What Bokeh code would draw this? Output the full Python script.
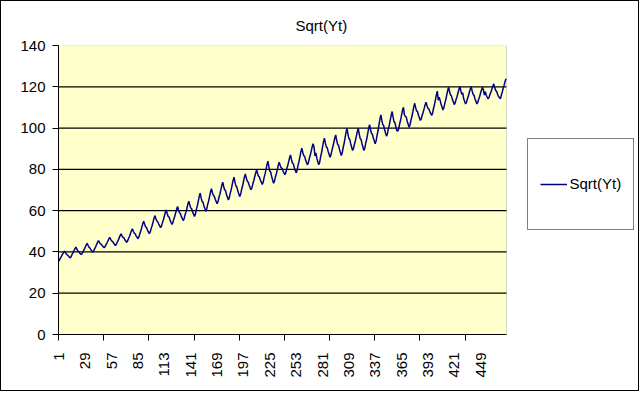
import math
from bokeh.plotting import figure
from bokeh.models import (Range1d, FixedTicker, LinearAxis, Legend, LegendItem,
                          ColumnDataSource, BoxAnnotation)
from bokeh.embed import file_html
from bokeh.resources import INLINE

title_text = "Sqrt(Yt)"
series_name = "Sqrt(Yt)"

sqrt_yt = [
    35.5, 36.6, 37.4, 38.2, 39.0, 39.8, 40.4, 39.6, 38.9, 38.5, 38.0, 37.5,
    37.1, 37.8, 38.9, 39.6, 40.7, 41.6, 42.3, 41.4, 40.5, 40.1, 39.5, 39.0,
    38.8, 39.5, 40.5, 41.3, 42.4, 43.4, 44.2, 43.1, 42.2, 41.9, 41.0, 40.4,
    39.9, 40.6, 41.6, 42.5, 43.6, 44.6, 45.5, 44.6, 43.9, 43.7, 43.0, 42.5,
    42.0, 42.6, 43.5, 44.3, 45.3, 46.3, 47.1, 46.1, 45.3, 45.1, 44.3, 43.7,
    43.1, 43.8, 44.8, 45.7, 46.8, 47.9, 48.8, 47.8, 47.0, 46.8, 45.9, 45.3,
    44.7, 45.4, 46.6, 47.6, 48.9, 50.2, 51.2, 50.0, 49.1, 48.8, 47.8, 47.1,
    46.4, 47.3, 48.9, 50.2, 51.9, 53.6, 54.9, 53.4, 52.2, 51.8, 50.6, 49.7,
    48.8, 49.7, 51.4, 52.8, 54.5, 56.3, 57.6, 56.1, 55.0, 54.6, 53.5, 52.6,
    51.7, 52.6, 54.3, 55.6, 57.4, 59.1, 60.4, 58.6, 57.2, 56.9, 55.4, 54.4,
    53.3, 54.2, 55.9, 57.2, 59.0, 60.7, 62.0, 60.3, 59.0, 58.6, 57.2, 56.2,
    55.2, 56.1, 58.0, 59.4, 61.3, 63.2, 64.6, 62.8, 61.3, 60.9, 59.4, 58.3,
    57.2, 58.3, 60.6, 62.3, 64.5, 66.8, 68.5, 66.3, 64.5, 64.1, 62.3, 61.0,
    59.7, 60.8, 63.0, 64.6, 66.8, 69.0, 70.6, 68.8, 67.4, 67.0, 65.5, 64.4,
    63.3, 64.4, 66.5, 68.0, 70.1, 72.2, 73.8, 71.7, 70.1, 69.6, 67.8, 66.5,
    65.2, 66.3, 68.5, 70.2, 72.4, 74.6, 76.2, 73.9, 72.0, 71.5, 69.6, 68.2,
    66.8, 67.9, 70.1, 71.8, 74.0, 76.2, 77.8, 75.9, 74.3, 73.9, 72.4, 71.3,
    70.1, 71.1, 73.0, 74.5, 76.4, 78.3, 79.8, 78.0, 76.7, 76.3, 74.8, 73.8,
    72.7, 73.8, 76.1, 77.8, 80.0, 82.3, 84.0, 81.3, 79.2, 78.6, 76.5, 74.9,
    73.3, 74.3, 76.4, 77.9, 79.9, 82.0, 83.5, 82.0, 80.8, 80.5, 79.2, 78.3,
    77.4, 78.4, 80.3, 81.7, 83.6, 85.6, 87.0, 84.8, 83.1, 82.7, 80.9, 79.6,
    78.3, 79.5, 81.9, 83.7, 86.1, 88.5, 90.3, 88.3, 86.7, 86.3, 84.6, 83.4,
    82.2, 83.2, 85.3, 86.8, 88.8, 90.9, 92.4, 90.8, 86.5, 88.0, 85.3, 83.7,
    82.2, 83.5, 86.1, 88.0, 90.6, 93.2, 95.1, 92.8, 91.0, 90.5, 88.7, 87.3,
    85.9, 87.0, 89.1, 90.8, 92.9, 95.1, 96.7, 94.2, 92.2, 91.7, 89.7, 88.2,
    86.7, 88.0, 90.7, 92.6, 95.3, 97.9, 99.9, 97.2, 95.0, 94.5, 92.3, 90.7,
    89.1, 90.2, 92.3, 94.0, 96.1, 98.3, 99.9, 97.2, 95.0, 94.5, 92.3, 90.7,
    89.1, 90.4, 92.9, 94.7, 97.2, 99.7, 101.6, 99.3, 97.5, 97.0, 95.2, 93.8,
    92.4, 93.8, 96.6, 98.7, 101.5, 104.3, 106.4, 103.8, 101.7, 101.2, 99.2, 97.6,
    96.1, 97.3, 99.7, 101.5, 103.8, 106.2, 108.0, 105.3, 103.1, 102.6, 100.4, 98.8,
    98.5, 99.7, 102.1, 103.9, 106.3, 108.6, 110.1, 106.5, 105.7, 105.3, 103.3, 101.9,
    100.4, 101.6, 103.9, 105.6, 107.9, 110.3, 112.0, 109.9, 108.3, 107.9, 106.2, 105.0,
    103.7, 104.6, 106.3, 107.7, 109.4, 111.2, 112.5, 110.9, 109.6, 109.3, 108.0, 107.1,
    106.1, 107.3, 109.6, 111.4, 113.8, 116.1, 117.9, 113.5, 115.0, 113.4, 111.5, 110.2,
    108.8, 109.9, 112.1, 113.8, 116.0, 118.2, 119.8, 117.7, 116.0, 115.6, 113.9, 112.7,
    111.4, 112.3, 114.0, 115.3, 117.1, 118.8, 120.1, 118.0, 116.3, 117.0, 114.2, 113.0,
    111.7, 112.5, 114.2, 115.5, 117.2, 118.8, 120.1, 118.0, 116.3, 115.9, 114.2, 113.0,
    111.7, 112.5, 114.1, 115.3, 117.0, 118.6, 119.8, 118.4, 116.0, 117.6, 115.9, 115.0,
    114.2, 114.9, 116.4, 117.4, 118.9, 120.3, 121.4, 119.6, 118.2, 117.8, 116.4, 115.3,
    114.8, 114.2, 115.9, 117.5, 119.3, 120.8, 122.6, 123.9,
]
periods = list(range(1, len(sqrt_yt) + 1))

x_tick_labels = [1, 29, 57, 85, 113, 141, 169, 197, 225, 253, 281, 309, 337, 365, 393, 421, 449]
x_tick_marks = [0.5, 48.5, 96.5, 144.5, 192.5, 240.5, 288.5, 336.5, 384.5, 432.5]
y_ticks = [0, 20, 40, 60, 80, 100, 120, 140]
y_grid = [20, 40, 60, 80, 100, 120]

FONT = "Liberation Sans"
FS = "15px"

# layout (pixels)
W, H = 639, 391
LEFT, TOP, BOTTOM = 57, 44, 58
PLOT_W = 448                       # width of the yellow plot area
FRAME_W = W - LEFT                 # frame spans to the right edge (legend lives in it)

n = len(sqrt_yt)
x_lo, x_hi = 0.5, n + 0.5
x_frame_hi = x_lo + n * FRAME_W / PLOT_W

p = figure(width=W, height=H, output_backend="svg", toolbar_location=None,
           x_range=Range1d(x_lo, x_frame_hi), y_range=Range1d(y_ticks[0], y_ticks[-1]),
           x_axis_type=None, y_axis_type=None,
           min_border_left=LEFT, min_border_right=0, min_border_top=TOP,
           min_border_bottom=BOTTOM)
p.styles = {"border": "1px solid black"}
p.background_fill_color = "white"
p.border_fill_color = "white"
p.outline_line_color = None

# plot area (yellow) with grey border
plot_area = BoxAnnotation(left=x_lo, right=x_hi, bottom=y_ticks[0], top=y_ticks[-1],
                          fill_color="#FFFFCC", fill_alpha=1.0,
                          line_color="#808080", line_width=1, level="image")
p.add_layout(plot_area)

# horizontal grid lines limited to the plot area
p.segment(x0=[x_lo] * len(y_grid), x1=[x_hi] * len(y_grid), y0=y_grid, y1=y_grid,
          line_color="black", line_width=1.2, level="underlay")

src = ColumnDataSource(data=dict(x=periods, y=sqrt_yt))
r = p.line(x="x", y="y", source=src, line_color="#000080", line_width=1.5)

p.title.text = title_text
p.title.align = "left"
p.title.offset = 237
p.title.standoff = 24
p.title.text_font = FONT
p.title.text_font_size = FS
p.title.text_font_style = "normal"
p.title.text_color = "black"

yaxis = LinearAxis(ticker=FixedTicker(ticks=y_ticks), axis_line_color="black",
                   major_tick_line_color="black", major_tick_in=0, major_tick_out=6,
                   minor_tick_in=0, minor_tick_out=0, major_label_standoff=7,
                   major_label_text_font=FONT, major_label_text_font_size=FS,
                   major_label_text_color="black")
p.add_layout(yaxis, "left")

xaxis = LinearAxis(ticker=FixedTicker(ticks=x_tick_labels, minor_ticks=x_tick_marks),
                   bounds=(x_lo, x_hi), axis_line_color="black",
                   major_tick_line_color=None, major_tick_in=0, major_tick_out=0,
                   minor_tick_line_color="black", minor_tick_in=0, minor_tick_out=6,
                   major_label_standoff=12,
                   major_label_orientation=math.pi / 2,
                   major_label_text_font=FONT, major_label_text_font_size=FS,
                   major_label_text_color="black")
p.add_layout(xaxis, "below")

legend = Legend(items=[LegendItem(label=series_name, renderers=[r])],
                location=(468.5, 104.5), border_line_color="black", border_line_width=1,
                background_fill_color="white", background_fill_alpha=1.0,
                padding=12, margin=0, spacing=0, glyph_width=27, glyph_height=66,
                label_height=66, label_standoff=3, label_text_font=FONT,
                label_text_font_size=FS, label_text_color="black")
p.add_layout(legend)

open("out.html", "w").write(file_html(p, INLINE))
